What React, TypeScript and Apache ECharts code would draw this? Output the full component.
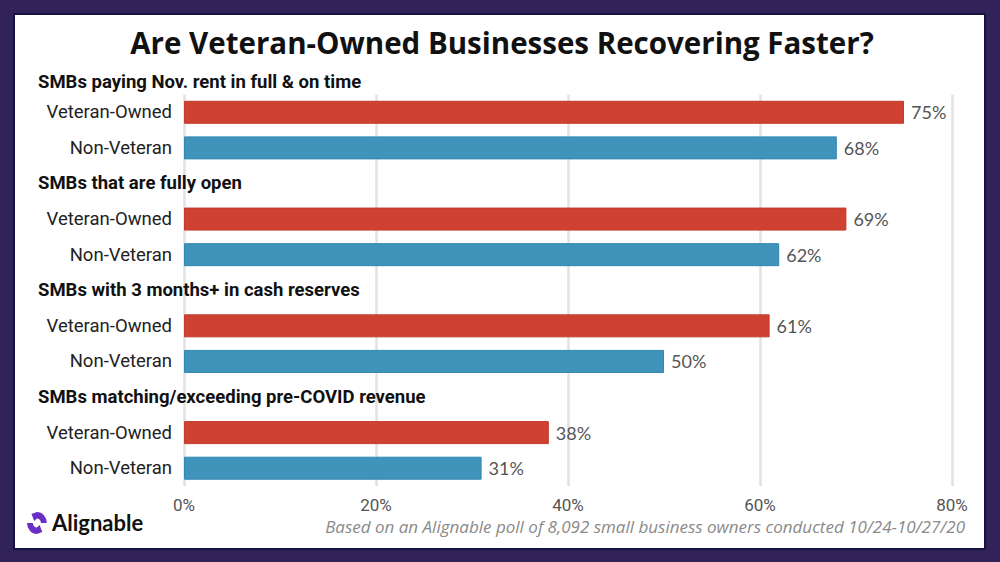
import React, { useEffect, useRef } from "react";
import * as echarts from "echarts";

// ---- data ----
const chartTitle = "Are Veteran-Owned Businesses Recovering Faster?";
const groups = [
  "SMBs paying Nov. rent in full & on time",
  "SMBs that are fully open",
  "SMBs with 3 months+ in cash reserves",
  "SMBs matching/exceeding pre-COVID revenue",
];
const rowLabels = ["Veteran-Owned", "Non-Veteran"];
const veteranOwned = [75, 69, 61, 38];
const nonVeteran = [68, 62, 50, 31];
const xTicks = { min: 0, max: 80, step: 20 };
const footnote =
  "Based on an Alignable poll of 8,092 small business owners conducted 10/24-10/27/20";
const brand = "Alignable";

const RED = "#cf4231";
const RED_EDGE = "#c23a2a";
const BLUE = "#4094bb";
const BLUE_EDGE = "#2f88b3";

type Row = { kind: "h" | "v" | "n"; group: number };

// Rows of the category axis: the first group's heading sits above the grid,
// later headings get their own empty row.
const rows: Row[] = [];
groups.forEach((_, g) => {
  if (g > 0) rows.push({ kind: "h", group: g });
  rows.push({ kind: "v", group: g });
  rows.push({ kind: "n", group: g });
});
const rowIds = rows.map((r, i) => `${r.kind}${r.group}-${i}`);

export default function App() {
  const ref = useRef<HTMLDivElement>(null);

  useEffect(() => {
    if (!ref.current) return;
    // brand mark: two curled half-rings around a centre
    echarts.graphic.registerShape(
      "brandMark",
      echarts.graphic.extendPath(
        "M 11 0 A 11 11 0 0 1 22 11 L 15.5 11 A 4.5 4.5 0 0 0 11 6.5 L 8 9 L 5 2 Z " +
          "M 11 22 A 11 11 0 0 1 0 11 L 6.5 11 A 4.5 4.5 0 0 0 11 15.5 L 14 13 L 17 20 Z",
        {}
      )
    );
    const chart = echarts.init(ref.current, null, { renderer: "svg" });

    const barData = rows.map((r) => {
      if (r.kind === "h") return "-";
      const isVet = r.kind === "v";
      return {
        value: isVet ? veteranOwned[r.group] : nonVeteran[r.group],
        itemStyle: {
          color: isVet ? RED : BLUE,
          borderColor: isVet ? RED_EDGE : BLUE_EDGE,
          borderWidth: 1,
        },
      };
    });

    chart.setOption({
      animation: false,
      backgroundColor: "#32225a",
      title: [
        {
          text: chartTitle,
          left: 502,
          textAlign: "center",
          top: 27,
          padding: 0,
          textStyle: {
            fontFamily: "Open Sans",
            fontWeight: "bold",
            fontSize: 29.5,
            color: "#111111",
          },
        },
        {
          text: groups[0],
          left: 38,
          top: 72,
          padding: 0,
          textStyle: {
            fontFamily: "Roboto",
            fontWeight: "bold",
            fontSize: 18.5,
            color: "#111111",
          },
        },
        {
          text: footnote,
          right: 35,
          top: 518,
          padding: 0,
          textStyle: {
            fontFamily: "Open Sans",
            fontStyle: "italic",
            fontWeight: "normal",
            fontSize: 17,
            color: "#8a8a8a",
          },
        },
        {
          text: brand,
          left: 52,
          top: 511,
          padding: 0,
          textStyle: {
            fontFamily: "Lato",
            fontWeight: "bold",
            fontSize: 22,
            color: "#111111",
          },
        },
      ],
      graphic: [
        {
          type: "rect",
          z: -10,
          silent: true,
          shape: { x: 14, y: 14, width: 971, height: 535 },
          style: { fill: "#ffffff", stroke: "#15143f", lineWidth: 2 },
        },
        {
          type: "brandMark",
          x: 27,
          y: 512,
          scaleX: 0.9,
          scaleY: 1,
          style: { fill: "#6a2fc4" },
        },
      ],
      grid: { left: 184, right: 48, top: 94.5, bottom: 76, containLabel: false },
      xAxis: {
        type: "value",
        min: xTicks.min,
        max: xTicks.max,
        interval: xTicks.step,
        axisLine: { show: false },
        axisTick: { show: false },
        splitLine: { lineStyle: { color: "#e2e2e2", width: 2.5 } },
        axisLabel: {
          formatter: "{value}%",
          fontFamily: "Roboto",
          fontSize: 17,
          color: "#555555",
          margin: 10,
        },
      },
      yAxis: [
        {
          type: "category",
          inverse: true,
          data: rowIds,
          axisLine: { show: false },
          axisTick: { show: false },
          splitLine: { show: false },
          axisLabel: {
            margin: 12,
            fontFamily: "Roboto",
            fontSize: 18.5,
            color: "#222222",
            formatter: (_: string, i: number) => {
              const r = rows[i];
              if (!r || r.kind === "h") return "";
              return r.kind === "v" ? rowLabels[0] : rowLabels[1];
            },
          },
        },
        {
          type: "category",
          inverse: true,
          position: "left",
          data: rowIds,
          axisLine: { show: false },
          axisTick: { show: false },
          splitLine: { show: false },
          axisLabel: {
            margin: 146,
            align: "left",
            fontFamily: "Roboto",
            fontWeight: "bold",
            fontSize: 18.5,
            color: "#111111",
            formatter: (_: string, i: number) => {
              const r = rows[i];
              return r && r.kind === "h" ? groups[r.group] : "";
            },
          },
        },
      ],
      series: [
        {
          type: "bar",
          yAxisIndex: 0,
          barWidth: 23,
          data: barData,
          label: {
            show: true,
            position: "right",
            distance: 7,
            formatter: "{c}%",
            fontFamily: "Lato",
            fontSize: 18,
            color: "#555555",
          },
        },
      ],
    });

    return () => {
      chart.dispose();
    };
  }, []);

  return (
    <div
      ref={ref}
      style={{ position: "fixed", left: 0, top: 0, width: 1000, height: 562 }}
    />
  );
}
